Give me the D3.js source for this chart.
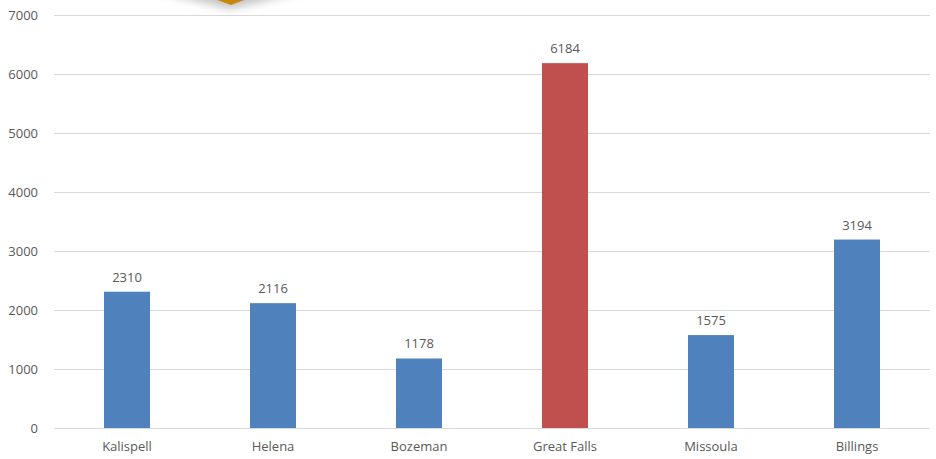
<!DOCTYPE html>
<html>
<head>
<meta charset="utf-8">
<script src="https://cdn.jsdelivr.net/npm/d3@7"></script>
<style>
  body { margin: 0; background: #fff; }
  svg text { font-family: "Open Sans", "Noto Sans", sans-serif; fill: #595959; }
</style>
</head>
<body>
<svg id="chart" width="936" height="459"></svg>
<script>
// chart data
const cities = ["Kalispell", "Helena", "Bozeman", "Great Falls", "Missoula", "Billings"];
const counts = [2310, 2116, 1178, 6184, 1575, 3194];
const highlightCity = "Great Falls";
const yTicks = [0, 1000, 2000, 3000, 4000, 5000, 6000, 7000];

const width = 936, height = 459;
const margin = { top: 15, right: 6, bottom: 31, left: 54 };

const svg = d3.select("#chart");

const x = d3.scaleBand()
    .domain(cities)
    .range([margin.left, width - margin.right])
    .paddingInner(0.685)
    .paddingOuter(0.3425);

const y = d3.scaleLinear()
    .domain([0, 7000])
    .range([height - margin.bottom, margin.top]);

// gridlines
svg.append("g")
    .attr("class", "grid")
    .selectAll("line")
    .data(yTicks)
    .enter()
    .append("line")
    .attr("x1", margin.left)
    .attr("x2", width - margin.right)
    .attr("y1", (d) => Math.round(y(d)) + 0.5)
    .attr("y2", (d) => Math.round(y(d)) + 0.5)
    .attr("stroke", "#D9D9D9")
    .attr("stroke-width", 1);

// y axis labels
const yAxis = d3.axisLeft(y)
    .tickValues(yTicks)
    .tickFormat(d3.format("d"))
    .tickSize(0)
    .tickPadding(16);
svg.append("g")
    .attr("transform", `translate(${margin.left},0)`)
    .call(yAxis)
    .call((g) => g.select(".domain").remove())
    .selectAll("text")
    .style("font-size", "13px")
    .attr("fill", "#595959");

// orange shape peeking in at the top (partly cut off)
const defs = svg.append("defs");
defs.append("filter")
    .attr("id", "soft")
    .attr("x", "-20%").attr("y", "-50%").attr("width", "140%").attr("height", "200%")
    .append("feGaussianBlur")
    .attr("stdDeviation", 4);
svg.append("path")
    .attr("d", "M150,-10 L310,-10 L230,9 Z")
    .attr("fill", "#8a8a8a")
    .attr("opacity", 0.5)
    .attr("filter", "url(#soft)");
svg.append("path")
    .attr("d", "M190,-10 L270,-10 L231,5 Z")
    .attr("fill", "#C9870A");

// bars
svg.append("g")
    .selectAll("rect")
    .data(cities)
    .enter()
    .append("rect")
    .attr("x", (d) => x(d))
    .attr("y", (d, i) => y(counts[i]))
    .attr("width", x.bandwidth())
    .attr("height", (d, i) => y(0) - y(counts[i]))
    .attr("fill", (d) => (d === highlightCity ? "#C0504D" : "#4F81BD"));

// value labels
svg.append("g")
    .selectAll("text")
    .data(cities)
    .enter()
    .append("text")
    .attr("x", (d) => x(d) + x.bandwidth() / 2)
    .attr("y", (d, i) => y(counts[i]) - 10)
    .attr("text-anchor", "middle")
    .style("font-size", "13px")
    .text((d, i) => counts[i]);

// x axis labels
const xAxis = d3.axisBottom(x).tickSize(0).tickPadding(14);
svg.append("g")
    .attr("transform", `translate(0,${height - margin.bottom})`)
    .call(xAxis)
    .call((g) => g.select(".domain").remove())
    .selectAll("text")
    .style("font-size", "13px")
    .attr("fill", "#595959");
</script>
</body>
</html>
